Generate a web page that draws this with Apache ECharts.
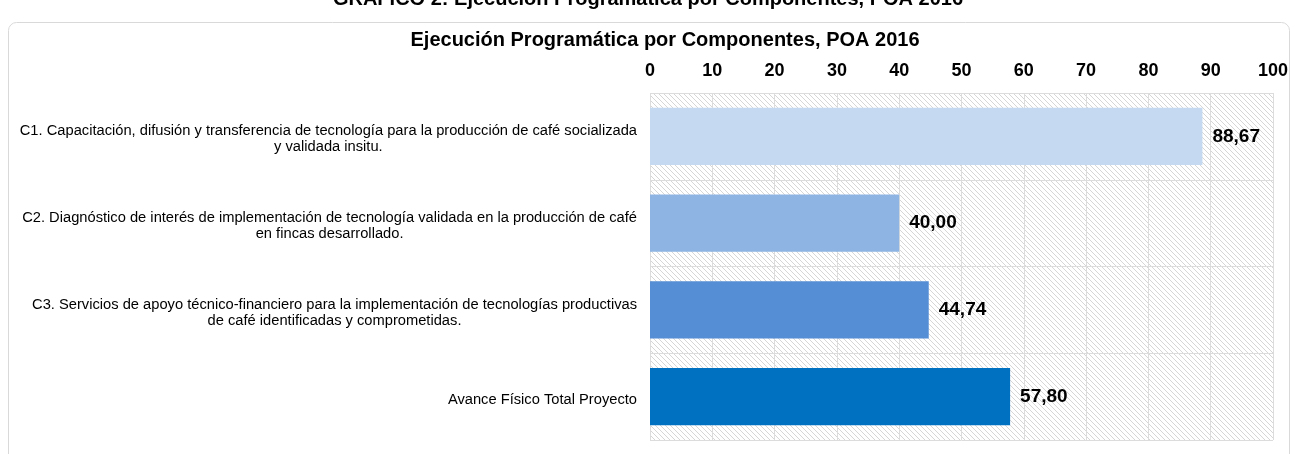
<!DOCTYPE html>
<html>
<head>
<meta charset="utf-8">
<script src="https://cdn.jsdelivr.net/npm/echarts@6/dist/echarts.min.js"></script>
<style>
  html, body { margin: 0; padding: 0; background: #fff; }
  #chart { width: 1296px; height: 454px; }
</style>
</head>
<body>
<div id="chart"></div>
<script>
const categories = [
  'C1. Capacitación, difusión y transferencia de tecnología para la producción de café socializada\ny validada insitu.',
  'C2. Diagnóstico de interés de implementación de tecnología validada en la producción de café\nen fincas desarrollado.',
  'C3. Servicios de apoyo técnico-financiero para la implementación de tecnologías productivas\nde café identificadas y comprometidas.',
  'Avance Físico Total Proyecto'
];
const values = [88.67, 40.0, 44.74, 57.8];
const barColors = ['#C5D9F1', '#8DB4E2', '#558ED5', '#0070C0'];

// hatch texture for the plot background
function hatch() {
  const s = 5;
  const c = document.createElement('canvas');
  c.width = s; c.height = s;
  const ctx = c.getContext('2d');
  ctx.fillStyle = '#fff';
  ctx.fillRect(0, 0, s, s);
  ctx.strokeStyle = '#d6d6d6';
  ctx.lineWidth = 1;
  [-s, 0, s].forEach(o => {
    ctx.beginPath();
    ctx.moveTo(o - 1, -1);
    ctx.lineTo(o + s + 1, s + 1);
    ctx.stroke();
  });
  return c;
}

const font = 'Arial, "Liberation Sans", sans-serif';
const myChart = echarts.init(document.getElementById('chart'));

const option = {
  animation: false,
  textStyle: { fontFamily: font },
  graphic: [
    {
      type: 'rect',
      shape: { x: 8.5, y: 22.5, width: 1281, height: 460, r: 8 },
      style: { fill: 'none', stroke: '#d9d9d9', lineWidth: 1 },
      z: -10
    },
    {
      type: 'text',
      left: 'center',
      top: -11,
      style: {
        text: 'GRAFICO 2: Ejecución Programática por Componentes, POA 2016',
        font: 'bold 20px ' + font,
        fill: '#000'
      }
    }
  ],
  title: {
    text: 'Ejecución Programática por Componentes, POA 2016',
    left: 660,
    textAlign: 'center',
    top: 25,
    textStyle: { fontSize: 20, fontWeight: 'bold', color: '#000', fontFamily: font }
  },
  grid: {
    left: 650,
    right: 23,
    top: 93,
    bottom: 14,
    show: true,
    backgroundColor: { image: hatch(), repeat: 'repeat' },
    borderWidth: 0
  },
  xAxis: {
    type: 'value',
    position: 'top',
    min: 0,
    max: 100,
    interval: 10,
    axisLine: { show: false },
    axisTick: { show: false },
    axisLabel: {
      margin: 13,
      color: '#000',
      fontSize: 18,
      fontWeight: 'bold',
      fontFamily: font
    },
    splitLine: { show: true, lineStyle: { color: '#dcdcdc', width: 1 } }
  },
  yAxis: {
    type: 'category',
    inverse: true,
    data: categories,
    axisLine: { show: false },
    axisTick: { show: false },
    splitLine: { show: true, lineStyle: { color: '#dcdcdc', width: 1 } },
    axisLabel: {
      margin: 13,
      padding: [6, 0, 0, 0],
      formatter: v => '{c|' + v + '}',
      rich: {
        c: { align: 'center', fontSize: 14.7, lineHeight: 16, color: '#000', fontFamily: font }
      }
    }
  },
  series: [
    {
      type: 'bar',
      barCategoryGap: '34%',
      data: values.map((v, i) => ({ value: v, itemStyle: { color: barColors[i] } })),
      label: {
        show: true,
        position: 'right',
        distance: 10,
        color: '#000',
        fontSize: 19,
        fontWeight: 'bold',
        fontFamily: font,
        formatter: p => p.value.toFixed(2).replace('.', ',')
      }
    }
  ]
};
myChart.setOption(option);
window.onresize = myChart.resize;
</script>
</body>
</html>
